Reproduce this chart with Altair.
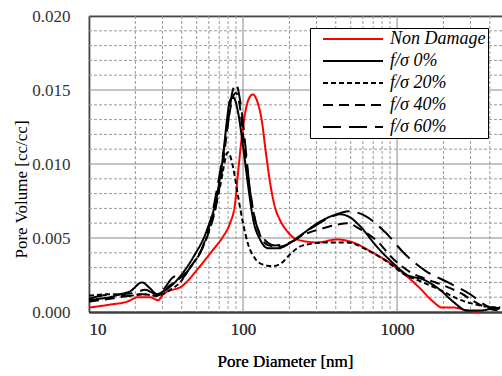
import altair as alt
import pandas as pd

# ---------------- data ----------------
series_names = ["Non Damage", "f/σ 0%", "f/σ 20%", "f/σ 40%", "f/σ 60%"]

nd_d = [10, 13.7, 17.7, 20.8, 24.9, 28.1, 30.3, 40.8, 52.6, 63.8, 74.2, 82.3, 88.7, 93.2, 98.1, 103, 108,
        115.6, 124, 132, 141, 150, 161, 174, 192, 224, 303, 408, 518, 698, 901, 1162, 1409, 1714, 1960,
        2310, 2850, 3460]
nd_v = [0.0003, 0.0005, 0.0007, 0.0010, 0.0010, 0.0008, 0.0012, 0.0018, 0.0031, 0.0042, 0.0051, 0.0060,
        0.0073, 0.0096, 0.0118, 0.0134, 0.0143, 0.0147, 0.0142, 0.0130, 0.0107, 0.0087, 0.0071, 0.0062,
        0.0055, 0.0049, 0.0047, 0.0049, 0.0047, 0.0040, 0.0033, 0.0024, 0.0016, 0.0007, 0.0003, 0.0003,
        0.0001, 0.0000]

f0_d = [10, 11.8, 13.7, 15.9, 18.5, 22.1, 24.9, 27.7, 30.3, 33.6, 39, 47.5, 58.1, 67.5, 74.5, 78.3, 82.3,
        86.5, 93.2, 100, 108, 116.6, 129, 146, 169, 197, 245, 316, 426, 494, 575, 741, 942, 1162, 1476,
        1900, 2310, 2850, 3460, 4020, 4670]
f0_v = [0.0008, 0.0009, 0.0010, 0.0012, 0.0014, 0.0020, 0.0016, 0.0012, 0.0014, 0.0017, 0.0024, 0.0037,
        0.0055, 0.0078, 0.0107, 0.0128, 0.0143, 0.0145, 0.0134, 0.0112, 0.0085, 0.0062, 0.0049, 0.0043,
        0.0043, 0.0046, 0.0053, 0.0061, 0.0066, 0.0064, 0.0058, 0.0044, 0.0033, 0.0025, 0.0022, 0.0015,
        0.0007, 0.0001, 0.0001, 0.0002, 0.0003]

f20_d = [10, 13.7, 18.5, 22.1, 27.7, 33.6, 39, 45.3, 52.6, 58.3, 63.8, 71, 79.9, 86.1, 92.9, 100, 107.7,
         120, 135, 157, 182, 202, 245, 351, 473, 638, 861, 1095, 1476, 1900, 2455, 2980, 3614, 4670]
f20_v = [0.0011, 0.0012, 0.0011, 0.0012, 0.0011, 0.0015, 0.0020, 0.0030, 0.0040, 0.0051, 0.0064, 0.0085,
         0.0108, 0.0098, 0.0078, 0.0060, 0.0046, 0.0036, 0.0032, 0.0031, 0.0034, 0.0039, 0.0045, 0.0047,
         0.0047, 0.0042, 0.0034, 0.0026, 0.0020, 0.0015, 0.0009, 0.0006, 0.0004, 0.0003]

f40_d = [10, 13.7, 18.5, 22.1, 27.7, 33.6, 39, 47.5, 58.1, 67.5, 74.5, 80, 86.5, 90, 95.7, 100, 108,
         116.6, 129, 146, 169, 197, 245, 316, 408, 473, 575, 741, 942, 1214, 1568, 2000, 2566, 3305,
         4020, 4670]
f40_v = [0.0007, 0.0009, 0.0011, 0.0012, 0.0011, 0.0018, 0.0023, 0.0033, 0.0050, 0.0074, 0.0102, 0.0128,
         0.0146, 0.0148, 0.0138, 0.0120, 0.0092, 0.0068, 0.0052, 0.0045, 0.0044, 0.0046, 0.0052, 0.0056,
         0.0059, 0.0060, 0.0056, 0.0048, 0.0036, 0.0027, 0.0022, 0.0018, 0.0013, 0.0006, 0.0002, 0.0001]

f60_d = [10, 12, 15.9, 20, 23.1, 27.7, 30.3, 36, 39, 45.3, 52.6, 61.1, 71, 79.9, 85, 90.1, 95.7, 100,
         104.5, 111, 120, 135, 161, 202, 272, 367, 494, 620, 836, 1128, 1521, 2143, 2980, 3839, 4670]
f60_v = [0.0009, 0.0011, 0.0012, 0.0013, 0.0015, 0.0012, 0.0015, 0.0024, 0.0022, 0.0030, 0.0040, 0.0060,
         0.0095, 0.0128, 0.0148, 0.0154, 0.0143, 0.0128, 0.0108, 0.0082, 0.0062, 0.0050, 0.0045, 0.0047,
         0.0056, 0.0064, 0.0068, 0.0065, 0.0054, 0.0039, 0.0028, 0.0020, 0.0012, 0.0004, 0.0002]

x_major = [10, 100, 1000]
x_minor = [20, 30, 40, 50, 60, 70, 80, 90, 200, 300, 400, 500, 600, 700, 800, 900, 2000, 3000, 4000]
y_major = [0.005, 0.010, 0.015, 0.020]
y_minor = [0.001, 0.002, 0.003, 0.004, 0.006, 0.007, 0.008, 0.009, 0.011, 0.012, 0.013, 0.014,
           0.016, 0.017, 0.018, 0.019]
y_labels = [0.0, 0.005, 0.010, 0.015, 0.020]

series_colors = ["#ff0000", "#000000", "#000000", "#000000", "#000000"]
series_dashes = [[1, 0], [1, 0], [5, 3], [10, 6], [18, 8]]

# ---------------- build table ----------------
rows = []
for name, ds, vs in zip(series_names, [nd_d, f0_d, f20_d, f40_d, f60_d],
                        [nd_v, f0_v, f20_v, f40_v, f60_v]):
    for d, v in zip(ds, vs):
        rows.append({"series": name, "d": d, "v": v})
df = pd.DataFrame(rows)

FONT = "'Liberation Serif', 'Times New Roman', Times, serif"
x_scale = alt.Scale(type="log", domain=[10, 4800], nice=False)
y_scale = alt.Scale(domain=[0, 0.02], nice=False)

axis_text = dict(labelFont=FONT, labelFontSize=17, labelColor="#333333",
                 titleFont=FONT, titleFontSize=17, titleFontWeight="normal", titleColor="#000000")

x_axis = alt.Axis(values=x_major, format="d", grid=False, ticks=False,
                  labelPadding=9, domainColor="#404040", domainWidth=2,
                  title="Pore Diameter [nm]",
                  titleX=196, titleY=49, titleBaseline="middle", titleAlign="center", **axis_text)
y_axis = alt.Axis(values=y_labels, format=".3f", grid=False, ticks=False,
                  labelPadding=19, domainColor="#000000", domainWidth=1.5,
                  title="Pore Volume [cc/cc]",
                  titleX=-68, titleY=173, titleAngle=270,
                  titleBaseline="middle", titleAlign="center", **axis_text)
top_axis = alt.Axis(orient="top", labels=False, ticks=False, grid=False, title=None,
                    domain=True, domainColor="#000000", domainWidth=1.5)

legend_def = dict(title=None, orient="none", legendX=221, legendY=12,
                  symbolType="M-5,0H5", symbolSize=144, symbolStrokeWidth=2, symbolOffset=32,
                  labelFont=FONT, labelFontSize=18, labelFontStyle="italic", labelColor="#000000",
                  labelOffset=28, rowPadding=4, padding=2,
                  labelExpr="datum.label + ' '",
                  fillColor="#ffffff", strokeColor="#000000")

grid_minor_x = alt.Chart(pd.DataFrame({"gx": x_minor})).mark_rule(
    color="#9a9a9a", strokeWidth=1, strokeDash=[3, 2]
).encode(x=alt.X("gx:Q", scale=x_scale, axis=top_axis))
grid_minor_y = alt.Chart(pd.DataFrame({"gy": y_minor})).mark_rule(
    color="#9a9a9a", strokeWidth=1, strokeDash=[3, 2]
).encode(y=alt.Y("gy:Q", scale=y_scale, axis=y_axis))
grid_major_x = alt.Chart(pd.DataFrame({"gx": x_major})).mark_rule(
    color="#8a8a8a", strokeWidth=1
).encode(x=alt.X("gx:Q", scale=x_scale, axis=x_axis))
grid_major_y = alt.Chart(pd.DataFrame({"gy": y_major})).mark_rule(
    color="#8a8a8a", strokeWidth=1
).encode(y=alt.Y("gy:Q", scale=y_scale, axis=y_axis))

lines = alt.Chart(df).mark_line(strokeWidth=2, interpolate="monotone").encode(
    x=alt.X("d:Q", scale=x_scale, axis=x_axis),
    y=alt.Y("v:Q", scale=y_scale, axis=y_axis),
    color=alt.Color("series:N", scale=alt.Scale(domain=series_names, range=series_colors),
                    legend=alt.Legend(**legend_def)),
    strokeDash=alt.StrokeDash("series:N",
                              scale=alt.Scale(domain=series_names, range=series_dashes),
                              legend=alt.Legend(**legend_def)),
)

chart = alt.layer(grid_minor_x, grid_minor_y, grid_major_x, grid_major_y, lines).resolve_axis(
    x="independent"
).properties(
    width=413, height=296,
    autosize=alt.AutoSizeParams(type="none"),
    padding={"left": 89, "top": 16, "right": 0, "bottom": 64},
).configure_view(
    stroke=None
).configure(
    background="#ffffff", font=FONT
).configure_legend(
    labelFont=FONT, labelFontStyle="italic"
)

chart.save("out.html", embed_options={"renderer": "svg", "actions": False})
